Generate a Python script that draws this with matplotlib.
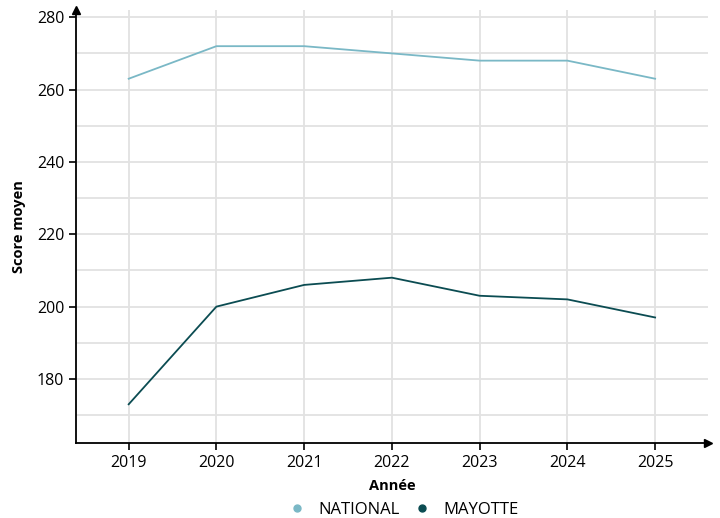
import matplotlib.pyplot as plt
import numpy as np

years = [2019, 2020, 2021, 2022, 2023, 2024, 2025]
national = [263, 272, 272, 270, 268, 268, 263]
mayotte = [173, 200, 206, 208, 203, 202, 197]

c_nat = "#7ab8c6"
c_may = "#0b4c52"

plt.rcParams['font.family'] = ['Open Sans', 'DejaVu Sans']

fig = plt.figure(figsize=(7.2, 5.18), dpi=100)
ax = fig.add_axes([0.1056, 0.1448, 0.983 - 0.1056, 0.9807 - 0.1448])

ax.plot(years, national, color=c_nat, lw=1.3, label="NATIONAL")
ax.plot(years, mayotte, color=c_may, lw=1.3, label="MAYOTTE")

ax.set_xlim(2018.4, 2025.6)
ax.set_ylim(162.3, 282)
ax.set_xticks(years)
ax.set_yticks(np.arange(180, 281, 20))
ax.set_yticks(np.arange(170, 281, 20), minor=True)
ax.tick_params(axis="y", which="minor", length=0)
ax.tick_params(which="major", length=5, width=1.2, color="black", labelsize=11.5)
ax.grid(True, which="both", color="#e2e2e2", lw=1.3)
ax.set_axisbelow(True)

for s in ["top", "right"]:
    ax.spines[s].set_visible(False)
for s in ["left", "bottom"]:
    ax.spines[s].set_linewidth(1.3)
ax.plot(1, 0, ">k", transform=ax.transAxes, clip_on=False, ms=6)
ax.plot(0, 1, "^k", transform=ax.transAxes, clip_on=False, ms=6)

ax.set_xlabel("Année", fontsize=10.5, fontweight="bold", labelpad=6)
ax.set_ylabel("Score moyen", fontsize=10.5, fontweight="bold", labelpad=8)

fig.legend(handles=[
    plt.Line2D([], [], marker="o", ls="", color=c_nat, ms=5, label="NATIONAL"),
    plt.Line2D([], [], marker="o", ls="", color=c_may, ms=5, label="MAYOTTE")],
    loc="lower center", bbox_to_anchor=(0.555, -0.028), ncol=2, frameon=False,
    fontsize=12, handletextpad=0.3, columnspacing=0.3)

fig.savefig("out.png", dpi=100)
